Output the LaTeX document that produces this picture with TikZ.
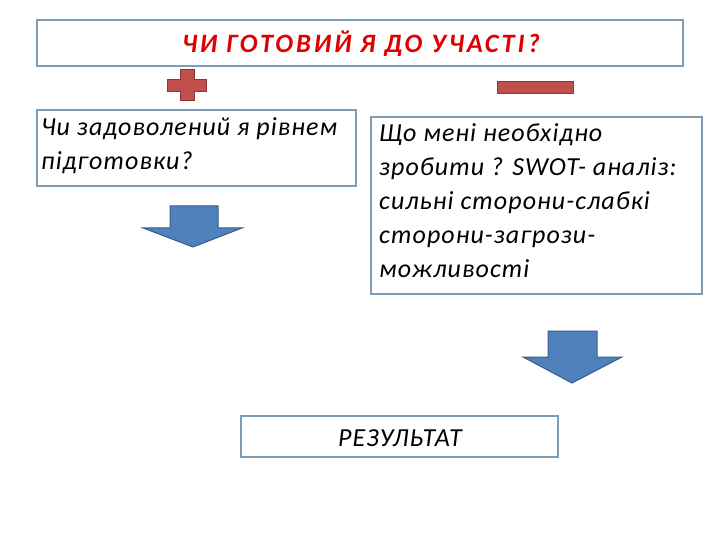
\documentclass[tikz,border=0pt]{standalone}
\usepackage{fontspec}
\setmainfont{Carlito}
\newfontfamily\wide[LetterSpace=4]{Carlito}
\newfontfamily\wider[LetterSpace=11]{Carlito}
\definecolor{boxline}{HTML}{7F9DB9}
\definecolor{redf}{HTML}{C0504D}
\definecolor{redd}{HTML}{8C3836}
\definecolor{bluef}{HTML}{4F81BD}
\definecolor{blued}{HTML}{385D8A}
\definecolor{titlered}{HTML}{E00000}
\begin{document}
\begin{tikzpicture}[x=1pt,y=-1pt,
  box/.style={draw=boxline,line width=1.5pt,fill=white},
  txt/.style={font=\wide\itshape\fontsize{26}{34}\selectfont,align=left,anchor=north west,inner sep=0pt},
  redshape/.style={fill=redf,draw=redd,line width=1pt},
  arr/.style={fill=bluef,draw=blued,line width=1pt}]
\useasboundingbox (0,0) rectangle (720,540);
\draw[box] (37,20) rectangle (683,66);
\node[font=\wider\bfseries\itshape\fontsize{26.5}{28}\selectfont,text=titlered] (title) at (361,44) {ЧИ ГОТОВИЙ Я ДО УЧАСТІ?};
\draw[redshape] (180,70) -- (194,70) -- (194,80) -- (206,80) -- (206,92) -- (194,92) -- (194,101) -- (180,101) -- (180,92) -- (167,92) -- (167,80) -- (180,80) -- cycle;
\draw[redshape] (497,82) rectangle (573,94);
\draw[box] (37,110) rectangle (356,186);
\node[txt] (left) at (41,117) {Чи задоволений я рівнем\\підготовки?};
\draw[box] (371,117) rectangle (702,294);
\node[txt] (right) at (379,123) {Що мені необхідно\\зробити ? SWOT- аналіз:\\сильні сторони-слабкі\\сторони-загрози-\\можливості};
\draw[arr] (170,206) -- (218,206) -- (218,228) -- (242,228) -- (193,247) -- (143,228) -- (170,228) -- cycle;
\draw[arr] (548,331) -- (597,331) -- (597,357) -- (622,357) -- (572,383) -- (523,357) -- (548,357) -- cycle;
\draw[box] (241,416) rectangle (558,457);
\node[font=\wide\itshape\fontsize{26}{28}\selectfont] (res) at (400,438) {РЕЗУЛЬТАТ};
\end{tikzpicture}
\end{document}
